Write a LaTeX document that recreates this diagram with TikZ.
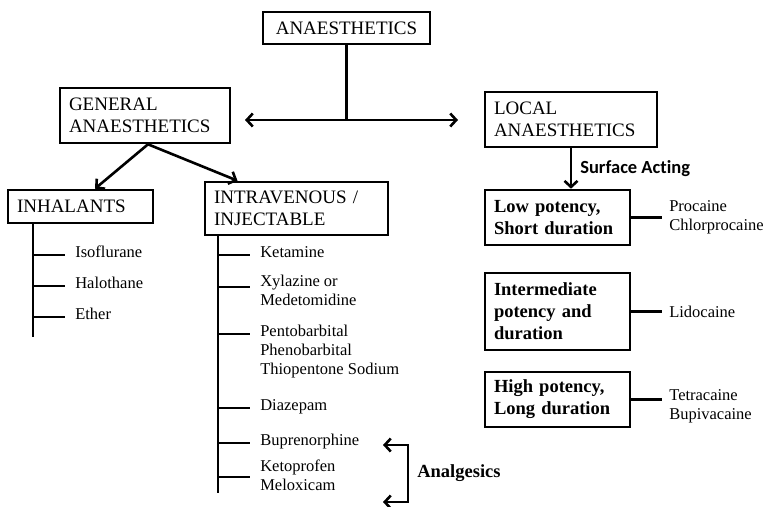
\documentclass[tikz,border=0pt]{standalone}
\usepackage{fontspec}
\setmainfont{Liberation Serif}
\newfontfamily\sanstype[Ligatures=NoCommon]{Carlito}
\usetikzlibrary{arrows.meta}
\newcommand{\capsfont}{\fontsize{19}{22}\selectfont}
\newcommand{\boldfont}{\fontsize{18.5}{22}\selectfont\bfseries}
\newcommand{\drugfont}{\fontsize{16.5}{19}\selectfont}
\newcommand{\actfont}{\sanstype\bfseries\fontsize{18.5}{20}\selectfont}
\newcommand{\druglist}[1]{\begin{tabular}[t]{@{}l@{}}#1\end{tabular}}

\begin{document}
\begin{tikzpicture}[x=1pt, y=-1pt, line width=2.6pt,
	>={Straight Barb[length=6pt,width=13pt]},
	box/.style={draw, inner xsep=9pt, inner ysep=0pt, align=left},
	drug/.style={anchor=mid west, inner xsep=9pt, inner ysep=0pt, font=\drugfont},
	rdrug/.style={drug, align=left, anchor=west, inner xsep=6pt}]
	\useasboundingbox (0,0) rectangle (765,506);
	\node [box, align=center, minimum width=167pt, minimum height=32pt, font=\capsfont] (1) at (346.5,28) 
		{ANAESTHETICS};
	\node [box, minimum width=170pt, minimum height=55pt, text width=152pt, font=\capsfont] (2) at (145,115.5) 
		{GENERAL\\ANAESTHETICS};
	\node [box, minimum width=172pt, minimum height=55pt, text width=154pt, font=\capsfont] (3) at (571,119.5) 
		{LOCAL\\ANAESTHETICS};
	\node [box, minimum width=145pt, minimum height=33pt, text width=127pt, font=\capsfont] (4) at (80.5,206.5) 
		{INHALANTS};
	\node [box, minimum width=183pt, minimum height=53pt, text width=165pt, font=\capsfont] (5) at (296.5,208.5) 
		{INTRAVENOUS /\\INJECTABLE};
	\node [box, minimum width=145pt, minimum height=55pt, text width=127pt, font=\boldfont] (6) at (557.5,217.5) 
		{Low potency,\\Short duration};
	\node [box, minimum width=145pt, minimum height=77pt, text width=127pt, font=\boldfont] (7) at (557.5,311.5) 
		{Intermediate\\potency and\\duration};
	\node [box, minimum width=145pt, minimum height=55pt, text width=127pt, font=\boldfont] (8) at (557.5,399.5) 
		{High potency,\\Long duration};

	\node [drug] (9) at (65,255) {Isoflurane};
	\node [drug] (10) at (65,286) {Halothane};
	\node [drug] (11) at (65,317) {Ether};
	\node [drug] (12) at (250,255) {Ketamine};
	\node [drug] (13) at (250,284) {\druglist{Xylazine or\\Medetomidine}};
	\node [drug] (14) at (250,334) {\druglist{Pentobarbital\\Phenobarbital\\Thiopentone Sodium}};
	\node [drug] (15) at (250,408) {Diazepam};
	\node [drug] (16) at (250,443) {Buprenorphine};
	\node [drug] (17) at (250,469) {\druglist{Ketoprofen\\Meloxicam}};
	\node [rdrug] (18) at (662,217) {Procaine\\Chlorprocaine};
	\node [rdrug] (19) at (662,311.5) {Lidocaine};
	\node [rdrug] (20) at (662,406) {Tetracaine\\Bupivacaine};

	\coordinate (21) at (346.5,120);
	\coordinate (22) at (245,120);
	\coordinate (23) at (458,120);
	\coordinate (24) at (33,337);
	\coordinate (25) at (218,493);
	\coordinate (26) at (383,445);
	\coordinate (27) at (383,502);

	\draw (1) -- (21);
	\draw [ <-> ] (22) -- (23);
	\draw [ -> ] ([xshift=3pt]2.south) -- ([xshift=14.5pt]4.north);
	\draw [ -> ] ([xshift=3pt]2.south) -- ([xshift=-59pt]5.north);
	\draw [ -> ] (3.south) to 
		node [right, inner xsep=8pt, font=\actfont] {Surface Acting} 
		(3.south |- 6.north);
	\draw (4.south -| 24) -- (24);
	\draw (5.south -| 25) -- (25);
	\foreach \n in {9,10,11}
		\draw (\n.mid west -| 24) -- (\n.mid west);
	\draw (12.mid west -| 25) -- (12.mid west);
	\draw ([yshift=-3pt]13.mid west -| 25) -- ([yshift=-3pt]13.mid west);
	\draw (14.mid west -| 25) -- (14.mid west);
	\draw (15.mid west -| 25) -- (15.mid west);
	\draw (16.mid west -| 25) -- (16.mid west);
	\draw ([yshift=-8pt]17.mid west -| 25) -- ([yshift=-8pt]17.mid west);
	\draw (6.east) -- (6.east -| 18.west);
	\draw (7.east) -- (7.east -| 19.west);
	\draw (8.east) -- (8.east -| 20.west);
	\draw [ <-> ] (26) -- ++(25,0) |- 
		node [right, pos=0.25, inner xsep=8pt, font=\boldfont] {Analgesics} 
		(27);
\end{tikzpicture}
\end{document}
